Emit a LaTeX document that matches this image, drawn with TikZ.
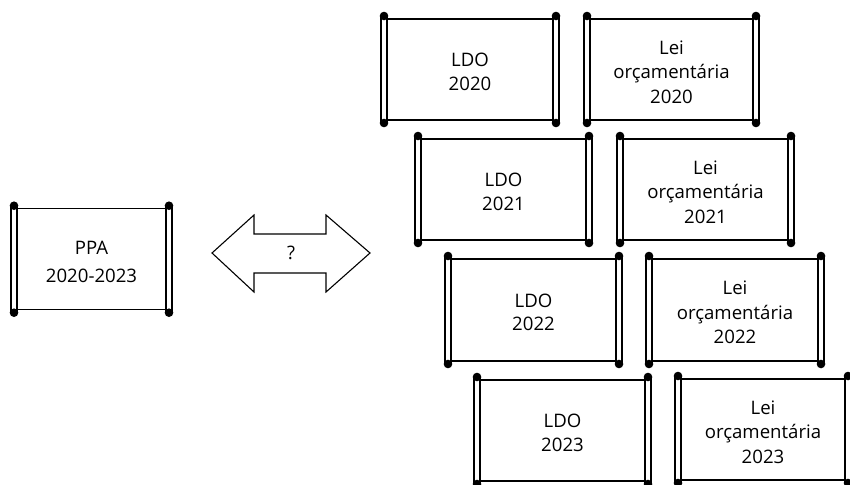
\documentclass[tikz,border=0pt]{standalone}
\usepackage{fontspec}
\setmainfont{Open Sans}
\tikzset{
  rodline/.style={line width=1.2pt, black},
  edgeline/.style={line width=1.1pt, black, line join=miter},
  scrolltext/.style={align=center, font=\fontsize{18.6}{23.4}\selectfont, inner sep=0pt},
  dotfill/.style={fill=black},
}
% #1 name, #2 left rod x, #3 top dot y, #4 rod distance, #5 dot distance, #6 text
\newcommand\scrollat[6]{%
  \draw[edgeline] (#2+3,#3+3) -- (#2+#4-3,#3+3) (#2+3,#3+#5-3) -- (#2+#4-3,#3+#5-3);
  \foreach \xx in {#2, #2+#4}{%
    \draw[rodline] (\xx-3,#3) -- (\xx-3,#3+#5) (\xx+3,#3) -- (\xx+3,#3+#5);
    \fill[dotfill] (\xx,#3) circle (4.3pt) (\xx,#3+#5) circle (4.3pt);
  }
  \node[scrolltext] (#1) at (#2+#4/2,#3+#5/2+2.5) {#6};
}
\begin{document}
\begin{tikzpicture}[x=1pt,y=-1pt]
  \useasboundingbox (0,0) rectangle (850,484);
  \clip (0,0) rectangle (850,484);
  % PPA
  \scrollat{ppa}{14}{205.7}{155}{107}{PPA\\[4.9pt]2020-2023}
  % double arrow
  \draw[edgeline] (212,253) -- (254,215) -- (254,234) -- (326,234) -- (326,215)
    -- (370,253) -- (326,292) -- (326,273) -- (254,273) -- (254,292) -- cycle;
  \node[scrolltext] (q) at (291,253) {?};
  % LDO
  \scrollat{ldo20}{384}{16}{172}{107}{LDO\\2020}
  \scrollat{ldo21}{418}{136}{171}{107}{LDO\\2021}
  \scrollat{ldo22}{448}{256}{171}{108}{LDO\\2022}
  \scrollat{ldo23}{477}{377}{171}{107}{LDO\\2023}
  % Lei
  \scrollat{lei20}{587}{16}{169}{107}{Lei\\[1.2pt]or\c{c}ament\'aria\\[1.2pt]2020}
  \scrollat{lei21}{620}{136}{171}{107}{Lei\\[1.2pt]or\c{c}ament\'aria\\[1.2pt]2021}
  \scrollat{lei22}{649}{256}{172}{108}{Lei\\[1.2pt]or\c{c}ament\'aria\\[1.2pt]2022}
  \scrollat{lei23}{678}{376}{170}{107}{Lei\\[1.2pt]or\c{c}ament\'aria\\[1.2pt]2023}
\end{tikzpicture}
\end{document}
